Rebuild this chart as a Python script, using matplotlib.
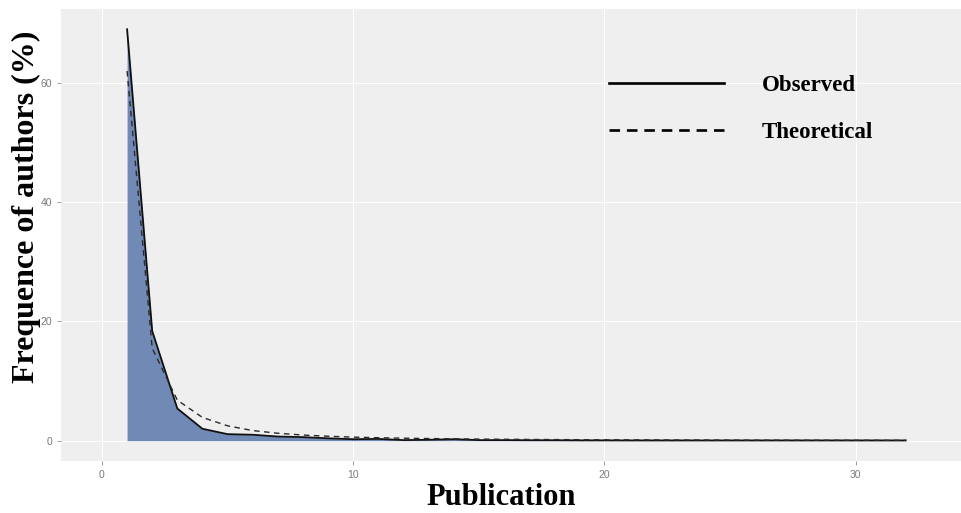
import matplotlib
matplotlib.use("Agg")
import matplotlib.pyplot as plt
from matplotlib.lines import Line2D
from matplotlib.ticker import MultipleLocator

# publications per author
pubs = list(range(1, 33))
# observed share of authors (%)
observed = [69.0, 18.4, 5.4, 2.0, 1.1, 1.0, 0.7, 0.6, 0.4, 0.25,
            0.3, 0.1, 0.15, 0.25, 0.1, 0.1, 0.08, 0.08, 0.06, 0.06,
            0.05, 0.05, 0.05, 0.05, 0.05, 0.05, 0.05, 0.05, 0.05, 0.05,
            0.05, 0.05]
# theoretical share (%)
theoretical = [62.0, 15.5, 6.8, 3.9, 2.5, 1.7, 1.25, 0.95, 0.75, 0.6,
               0.5, 0.42, 0.36, 0.31, 0.27, 0.24, 0.21, 0.19, 0.17, 0.15,
               0.14, 0.13, 0.12, 0.11, 0.1, 0.09, 0.085, 0.08, 0.075, 0.07,
               0.065, 0.06]

serif = ['Liberation Serif', 'DejaVu Serif']
tickfont = ['Liberation Sans Narrow', 'Liberation Sans', 'DejaVu Sans']

fig = plt.figure(figsize=(9.61, 5.13), dpi=100)
ax = fig.add_axes([0.0635, 0.1014, 0.9365, 0.8811])
ax.set_facecolor('#efefef')

# area + lines
ax.fill_between(pubs, observed, 0, color='#7189b5', linewidth=0, zorder=2)
ax.plot(pubs, observed, color='#111111', linewidth=1.3, zorder=3)
ax.plot(pubs, theoretical, color='#2a2a2a', linewidth=1.0,
        linestyle=(0, (4, 3.2)), zorder=4)

ax.set_xlim(-1.63, 34.2)
ax.set_ylim(-3.4, 72.4)
ax.xaxis.set_major_locator(MultipleLocator(10))
ax.yaxis.set_major_locator(MultipleLocator(20))
ax.grid(True, color='white', linewidth=0.8)
ax.set_axisbelow(True)
for s in ax.spines.values():
    s.set_visible(False)
ax.tick_params(colors='#8a8a8a', labelcolor='#7a7a7a', length=3,
               width=0.6, labelsize=7.5)
for lab in ax.get_xticklabels() + ax.get_yticklabels():
    lab.set_family(tickfont)

# axis titles sit off-centre in the original, so place them on the figure
fig.text(0.5213, 0.016, 'Publication', fontsize=22, fontweight='bold',
         family=serif, ha='center', va='baseline')
fig.text(0.0354, 0.2534, 'Frequence of authors (%)', fontsize=23,
         fontweight='bold', family=serif, rotation=90,
         rotation_mode='anchor', ha='left', va='baseline')

# legend
handles = [Line2D([], [], color='black', linewidth=1.9),
           Line2D([], [], color='black', linewidth=1.9,
                  linestyle=(0, (4, 2.6)))]
leg = ax.legend(handles, ['Observed', 'Theoretical'], loc='upper left',
                bbox_to_anchor=(0.586, 0.90), frameon=False,
                handlelength=5.0, handletextpad=1.66, labelspacing=1.16,
                prop={'family': serif, 'weight': 'bold', 'size': 16.5})

fig.savefig('out.png', dpi=100)
